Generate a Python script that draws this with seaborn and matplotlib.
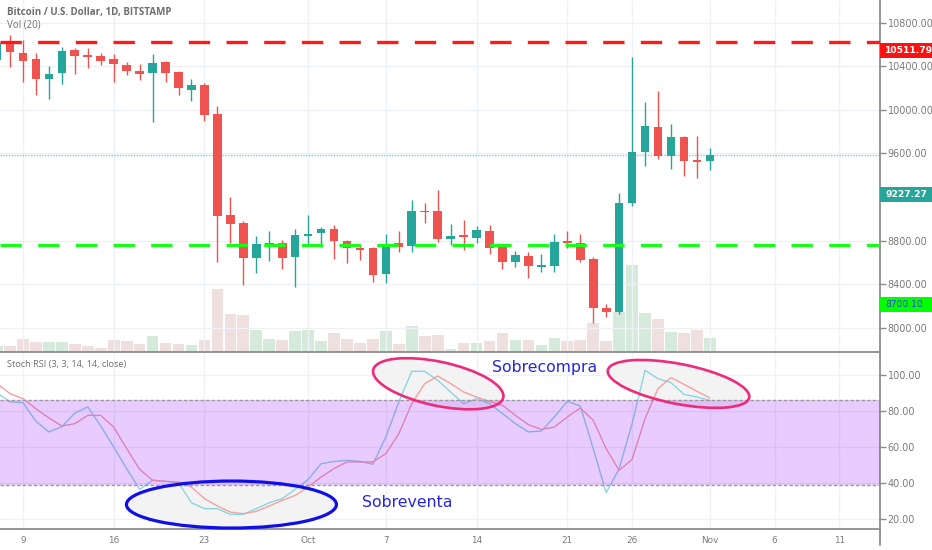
import numpy as np
import pandas as pd
import matplotlib
matplotlib.use("Agg")
import matplotlib.pyplot as plt
import matplotlib.dates as mdates
import matplotlib.transforms as mtransforms
from matplotlib.patches import Ellipse, Rectangle
from matplotlib.lines import Line2D
from matplotlib.ticker import FixedLocator, FixedFormatter
import seaborn as sns

# ---------------- data ----------------
dates = pd.date_range("2019-09-07", "2019-11-01", freq="D")

open_ = [10458, 10626, 10519, 10464, 10280, 10335, 10549, 10503, 10494, 10467,
         10412, 10359, 10335, 10436, 10345, 10182, 10228, 9959, 9035, 8958,
         8643, 8759, 8780, 8652, 8844, 8867, 8909, 8797, 8732, 8729,
         8493, 8775, 8753, 9074, 9074, 8814, 8848, 8820, 8888, 8738,
         8600, 8658, 8560, 8569, 8796, 8775, 8628, 8184, 8141, 9142,
         9610, 9845, 9576, 9748, 9540, 9530]
high = [10650, 10687, 10641, 10525, 10405, 10580, 10571, 10565, 10519, 10510,
        10436, 10421, 10512, 10451, 10357, 10283, 10249, 10035, 9203, 8980,
        8842, 8891, 8805, 8906, 9035, 8927, 8943, 8805, 8766, 8744,
        8858, 8888, 9172, 9142, 9264, 8952, 8989, 8937, 8943, 8750,
        8707, 8698, 8677, 8860, 8888, 8858, 8646, 8218, 9239, 10488,
        10069, 10176, 9870, 9760, 9763, 9653]
low = [10420, 10396, 10258, 10136, 10097, 10235, 10329, 10387, 10412, 10258,
       10320, 10274, 9886, 10258, 10136, 10081, 9900, 8606, 8780, 8392,
       8505, 8615, 8536, 8376, 8759, 8744, 8628, 8597, 8622, 8422,
       8413, 8698, 8698, 8964, 8790, 8759, 8714, 8780, 8677, 8536,
       8560, 8459, 8514, 8514, 8735, 8606, 8040, 8096, 8124, 9120,
       9487, 9546, 9454, 9395, 9377, 9448]
close = [10611, 10528, 10448, 10280, 10329, 10543, 10497, 10488, 10451, 10421,
         10359, 10326, 10427, 10341, 10198, 10228, 9953, 9028, 8949, 8643,
         8766, 8775, 8643, 8851, 8860, 8903, 8796, 8729, 8716, 8484,
         8768, 8744, 9074, 9059, 8814, 8845, 8830, 8897, 8729, 8600,
         8667, 8567, 8576, 8790, 8775, 8622, 8178, 8147, 9142, 9610,
         9852, 9576, 9748, 9530, 9518, 9585]
volume = [1800, 1800, 3800, 3000, 3000, 3000, 2300, 1700, 1300, 3500,
          3300, 2500, 4800, 2800, 2500, 2000, 3500, 18800, 11500, 11000,
          6500, 4000, 3500, 6200, 6700, 3200, 5700, 4000, 2800, 4000,
          6200, 2300, 7700, 4900, 5000, 1000, 2800, 2800, 3300, 5700,
          3500, 3700, 2200, 4200, 3300, 3700, 8800, 3300, 12000, 26100,
          11800, 9800, 6000, 5700, 6500, 4300]
stoch_k = [90.2, 85.2, 84.8, 74.4, 68.5, 71.4, 79.0, 82.4, 71.8, 60.1,
           48.0, 36.5, 41.6, 41.0, 40.3, 29.1, 25.8, 25.8, 22.6, 22.6,
           25.8, 29.1, 31.4, 36.5, 42.0, 50.8, 52.1, 52.7, 52.1, 50.5,
           65.7, 85.2, 102.2, 102.2, 97.2, 90.7, 84.2, 87.0, 84.2, 78.7,
           73.1, 68.5, 69.0, 76.8, 85.5, 82.9, 59.2, 34.7, 48.0, 73.1,
           102.8, 98.1, 95.9, 89.4, 87.9, 86.1]
stoch_d = [95.4, 89.8, 87.0, 81.4, 76.3, 71.8, 73.1, 77.7, 77.7, 71.2,
           59.2, 47.7, 41.6, 41.0, 40.6, 37.8, 31.4, 27.3, 23.9, 23.0,
           24.3, 27.3, 30.4, 33.2, 37.8, 43.4, 48.1, 51.8, 51.8, 51.8,
           56.4, 67.5, 84.2, 95.4, 99.6, 95.4, 90.7, 87.9, 85.5, 83.3,
           77.7, 72.5, 69.9, 71.2, 76.8, 81.8, 75.0, 59.2, 47.1, 53.2,
           75.9, 92.6, 98.7, 95.0, 91.1, 87.4]

resistance_level = 10623
support_level = 8762
band_upper = 86.5
band_lower = 38.8

price_ticks = [8000, 8400, 8800, 9600, 10000, 10400, 10800]
stoch_ticks = [20, 40, 60, 80, 100]
x_tick_dates = ["2019-09-09", "2019-09-16", "2019-09-23", "2019-10-01", "2019-10-07",
                "2019-10-14", "2019-10-21", "2019-10-26", "2019-11-01", "2019-11-06",
                "2019-11-11"]
x_tick_labels = ["9", "16", "23", "Oct", "7", "14", "21", "26", "Nov", "6", "11"]

# price boxes on the axis: (text, y-position, background, text colour, bold)
price_boxes = [("10511.79", 10540, "#ff1010", "white", True),
               ("9227.27", 9227.27, "#26a69a", "white", True),
               ("8700.10", 8215, "#00ff00", "#3a3ae8", False)]

# ---------------- frame ----------------
sns.set_style("white")
plt.rcParams["font.family"] = ["DejaVu Sans"]

W, H = 932, 550
fig = plt.figure(figsize=(W / 100, H / 100), dpi=100)
fig.patch.set_facecolor("white")

right_px = 880
ax_p = fig.add_axes([0, 1 - 352 / H, right_px / W, 352 / H])
ax_s = fig.add_axes([0, 1 - 528.7 / H, right_px / W, 176.7 / H])
ax_v = ax_p.twinx()

x = mdates.date2num(dates.to_pydatetime())
o = np.array(open_, float); c = np.array(close, float)
hi = np.array(high, float); lo = np.array(low, float)
up = c >= o
df = pd.DataFrame({"x": x, "vol": volume, "dir": np.where(up, "up", "down"),
                   "K": stoch_k, "D": stoch_d})

UP, DOWN = "#26a69a", "#ef5350"

# volume (behind candles)
sns.barplot(data=df, x="x", y="vol", hue="dir",
            palette={"up": "#d6eadb", "down": "#efdfdf"},
            native_scale=True, dodge=False, width=0.9, errorbar=None,
            legend=False, saturation=1, linewidth=0, ax=ax_v)
ax_v.set_ylim(0, 352 * 300)
ax_v.set_yticks([]); ax_v.set_ylabel("")
for s in ax_v.spines.values():
    s.set_visible(False)
ax_p.set_zorder(2); ax_v.set_zorder(1)
ax_p.patch.set_visible(False)

# candles
cols = np.where(up, UP, DOWN)
ax_p.vlines(x, lo, hi, colors=cols, lw=1.0, zorder=3)
body = np.maximum(np.abs(c - o), 16)
ax_p.bar(x, body, bottom=np.minimum(o, c), width=0.67, color=cols, linewidth=0, zorder=4)

ax_p.axhline(c[-1], color="#84cdc5", ls=(0, (1, 1)), lw=1.0, zorder=2)
ax_p.axhline(resistance_level, color="#ff1a1a", lw=2.4, dashes=(6.4, 4.9), zorder=5)
ax_p.axhline(support_level, color="#1aff1a", lw=2.4, dashes=(6.4, 4.9), zorder=5)

# stoch rsi
sns.lineplot(data=df, x="x", y="K", color="#8ad6e0", lw=1.0, estimator=None, ax=ax_s, zorder=3)
sns.lineplot(data=df, x="x", y="D", color="#f5a0a0", lw=1.0, estimator=None, ax=ax_s, zorder=3)
ax_s.axhspan(band_lower, band_upper, color="#9915ff", alpha=0.22, lw=0, zorder=4)
for lvl in (band_upper, band_lower):
    ax_s.axhline(lvl, color="#9a9a9a", lw=1.0, ls=(0, (2.5, 1.5)), zorder=4)
ax_s.set_xlabel(""); ax_s.set_ylabel("")

# ---------------- axes cosmetics ----------------
x0 = mdates.date2num(pd.Timestamp("2019-09-09"))
xlim = (x0 - 1.775, x0 + 66.13)
xt = mdates.date2num(pd.to_datetime(x_tick_dates).to_pydatetime())
tick_col = "#7a7a7a"
for ax in (ax_p, ax_s, ax_v):
    ax.set_xlim(*xlim)
for ax in (ax_p, ax_s):
    ax.xaxis.set_major_locator(FixedLocator(xt))
    ax.grid(True, color="#eef1f6", lw=1.0, zorder=0)
    ax.set_axisbelow(True)
    ax.yaxis.tick_right()
    ax.tick_params(axis="y", direction="out", length=4, width=1, color="#8c8c8c",
                   labelcolor=tick_col, labelsize=6.9, pad=1.5)
    for side in ("top", "left"):
        ax.spines[side].set_visible(False)
    for side in ("right", "bottom"):
        ax.spines[side].set_color("#8c8c8c")
        ax.spines[side].set_linewidth(1.3)

ax_p.set_ylim(7777, 11008)
ax_p.yaxis.set_major_locator(FixedLocator(price_ticks))
ax_p.yaxis.set_major_formatter(FixedFormatter([f"{t:.2f}" for t in price_ticks]))
ax_p.tick_params(axis="x", length=0, labelbottom=False)
ax_p.set_xlabel(""); ax_p.set_ylabel("")

ax_s.set_ylim(14.66, 112.96)
ax_s.yaxis.set_major_locator(FixedLocator(stoch_ticks))
ax_s.yaxis.set_major_formatter(FixedFormatter([f"{t:.2f}" for t in stoch_ticks]))
ax_s.xaxis.set_major_formatter(FixedFormatter(x_tick_labels))
ax_s.tick_params(axis="x", direction="out", length=3, width=1, color="#8c8c8c",
                 labelcolor=tick_col, labelsize=6.4, pad=2)
ax_s.spines["top"].set_visible(False)

# right axis line continuing below the chart
fig.add_artist(Line2D([right_px / W, right_px / W], [5 / H, 1 - 528.7 / H],
                      color="#8c8c8c", lw=1.3, transform=fig.transFigure))

# price boxes on the right scale
tb = mtransforms.blended_transform_factory(ax_p.transAxes, ax_p.transData)
hh = 7.5 * (11008 - 7777) / 352
for txt, yv, bg, fg, bold in price_boxes:
    ax_p.add_patch(Rectangle((1.0, yv - hh), 60 / right_px, 2 * hh, transform=tb,
                             facecolor=bg, edgecolor="none", clip_on=False, zorder=10))
    ax_p.text(1.0 + 5 / right_px, yv, txt, transform=tb, color=fg, fontsize=6.6,
              fontweight="bold" if bold else "normal", va="center", ha="left",
              clip_on=False, zorder=11)

# ---------------- annotations on the oscillator ----------------
def ellipse(ax, date, val, w_in, h_in, angle, edge, lw):
    xc = mdates.date2num(pd.Timestamp(date))
    tr = fig.dpi_scale_trans + mtransforms.ScaledTranslation(xc, val, ax.transData)
    ax.add_patch(Ellipse((0, 0), w_in, h_in, angle=angle, transform=tr,
                         facecolor="#f3f3f3", edgecolor="none", zorder=1, clip_on=False))
    ax.add_patch(Ellipse((0, 0), w_in, h_in, angle=angle, transform=tr,
                         facecolor="none", edgecolor=edge, lw=lw, zorder=6, clip_on=False))

ellipse(ax_s, "2019-09-25 02:00", 28.1, 2.10, 0.47, 0, "#1010e6", 2.3)
ellipse(ax_s, "2019-10-11 01:00", 95.3, 1.33, 0.44, -12, "#ee2a7b", 1.9)
ellipse(ax_s, "2019-10-29 14:00", 95.2, 1.44, 0.40, -11, "#ee2a7b", 1.9)

ax_s.text(mdates.date2num(pd.Timestamp("2019-10-19 05:00")), 104.1, "Sobrecompra",
          color="#2626dc", fontsize=11.3, ha="center", va="center", zorder=7)
ax_s.text(mdates.date2num(pd.Timestamp("2019-10-08 15:00")), 29.0, "Sobreventa",
          color="#2626dc", fontsize=11.3, ha="center", va="center", zorder=7)

# ---------------- header texts ----------------
def ftext(px, py, s, **kw):
    fig.text(px / W, 1 - py / H, s, va="center", ha="left", **kw)

ftext(7, 12, "Bitcoin / U.S. Dollar, 1D, BITSTAMP", color="#6f6f6f", fontsize=7.0,
      fontweight="bold", family=["Open Sans", "DejaVu Sans"])
ftext(7, 25, "Vol (20)", color="#6f6f6f", fontsize=7.0, family=["Open Sans", "DejaVu Sans"])
ftext(7, 365, "Stoch RSI (3, 3, 14, 14, close)", color="#6f6f6f", fontsize=6.6,
      family=["Open Sans", "DejaVu Sans"])

fig.savefig("out.png", dpi=100, facecolor="white")
